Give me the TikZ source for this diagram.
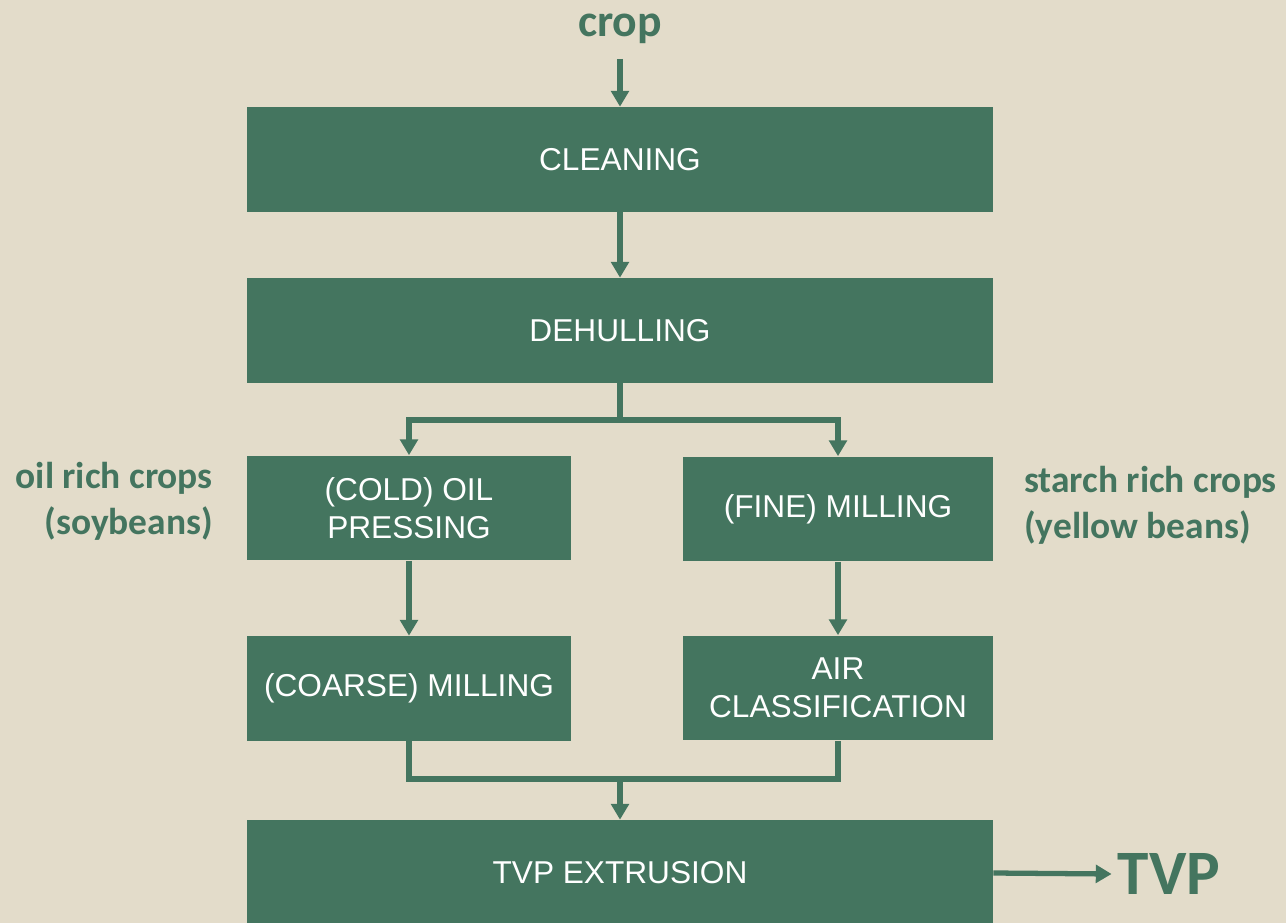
\documentclass[tikz,border=0pt]{standalone}
\usepackage{fontspec}
\setmainfont{Liberation Sans}
\newfontfamily\calfont{Carlito}
\usetikzlibrary{arrows.meta, positioning, calc}

\definecolor{bgbeige}{HTML}{E3DCCA}
\definecolor{stepgreen}{HTML}{44755F}

\begin{document}
\begin{tikzpicture}[x=0.02cm, y=-0.02cm, >={Triangle[width=10pt, length=9pt]}]
\tikzset{
    stepbox/.style={rectangle, fill=stepgreen, text=white, minimum height=2.1cm,
        align=center, font=\fontsize{18}{21.5}\selectfont},
    widebox/.style={stepbox, minimum width=14.92cm},
    leftbox/.style={stepbox, minimum width=6.48cm},
    rightbox/.style={stepbox, minimum width=6.2cm},
    tag/.style={text=stepgreen, font=\calfont\bfseries\fontsize{21.3}{26}\selectfont},
    line/.style={line width=3pt, draw=stepgreen},
    flow/.style={line, ->}
}

% background and size
\fill[bgbeige] (0,0) rectangle (1286,923);
\useasboundingbox (0,0) rectangle (1286,923);

% --- main column ---
\node (crop) at (620, 29) [text=stepgreen, font=\calfont\bfseries\fontsize{26}{30}\selectfont] {crop};
\node (clean) at (620, 159.5) [widebox] {CLEANING};
\node (dehull) at (620, 330.5) [widebox] {DEHULLING};

% --- two branches ---
\node (press) at (409, 508) [leftbox] {(COLD) OIL\\PRESSING};
\node (fine) at (838, 509) [rightbox] {(FINE) MILLING};
\node (coarse) at (409, 688.5) [leftbox] {(COARSE) MILLING};
\node (air) at (838, 688) [rightbox] {AIR\\CLASSIFICATION};
\node (extrude) at (620, 873) [widebox, minimum height=2.12cm] {TVP EXTRUSION};

\node (oilcrops) at (219, 501) [tag, anchor=east, align=right] {oil rich crops\\(soybeans)};
\node (starchcrops) at (1018, 505) [tag, anchor=west, align=left] {starch rich crops\\(yellow beans)};
\node (tvp) at (1169, 874) [text=stepgreen, font=\calfont\bfseries\fontsize{36}{40}\selectfont] {TVP};

\coordinate (split) at (620, 420);
\coordinate (join) at (620, 779);

% arrows
\draw[flow, shorten <=5pt] (crop.south) -- (clean.north);
\draw[flow] (clean.south) -- (dehull.north);
\draw[line] (dehull.south) -- (split);
\draw[flow] (split) -| (press.north);
\draw[flow] (split) -| (fine.north);
\draw[flow] (press.south) -- (coarse.north);
\draw[flow] (fine.south) -- (air.north);
\draw[line] (coarse.south) |- (join) -| (air.south);
\draw[flow] (join) -- (extrude.north);
\draw[flow] (extrude.east) -- (tvp.west);

\end{tikzpicture}
\end{document}
